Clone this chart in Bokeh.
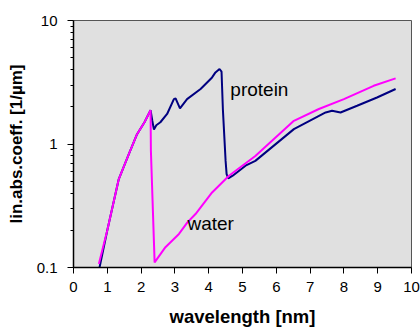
from bokeh.plotting import figure
from bokeh.models import FixedTicker, Label
from bokeh.embed import file_html
from bokeh.resources import INLINE

# data
protein_x = [0.77, 1.0, 1.34, 1.64, 1.88, 2.1, 2.28, 2.33, 2.38, 2.45, 2.57, 2.77, 2.97, 3.02, 3.15, 3.36, 3.76, 4.10, 4.2, 4.32, 4.38, 4.42, 4.5, 4.53, 4.58, 4.71, 5.09, 5.38, 6.52, 7.46, 7.65, 7.9, 8.39, 8.98, 9.53]
protein_y = [0.1, 0.2, 0.52, 0.83, 1.2, 1.5, 1.88, 1.55, 1.31, 1.42, 1.5, 1.75, 2.31, 2.34, 1.94, 2.31, 2.79, 3.46, 3.8, 4.05, 3.85, 1.9, 0.73, 0.57, 0.527, 0.554, 0.667, 0.73, 1.32, 1.8, 1.86, 1.8, 2.04, 2.38, 2.79]

water_x = [0.75, 1.0, 1.34, 1.64, 1.88, 2.1, 2.28, 2.29, 2.40, 2.72, 3.12, 3.37, 3.61, 4.10, 4.6, 5.38, 6.52, 7.26, 8.0, 8.88, 9.53]
water_y = [0.107, 0.2, 0.52, 0.83, 1.2, 1.5, 1.88, 0.88, 0.11, 0.146, 0.187, 0.232, 0.271, 0.405, 0.554, 0.80, 1.54, 1.92, 2.31, 2.96, 3.4]

x_ticks = [0, 1, 2, 3, 4, 5, 6, 7, 8, 9, 10]
y_ticks = [0.1, 1, 10]
y_tick_labels = ["0.1", "1", "10"]
y_minor = [0.2, 0.3, 0.4, 0.5, 0.6, 0.7, 0.8, 0.9, 2, 3, 4, 5, 6, 7, 8, 9]

labels = ["protein", "water"]
label_x = [4.64, 3.37]
label_y = [2.76, 0.227]

FONT = "Liberation Sans"

p = figure(width=420, height=329, y_axis_type="log",
           x_range=(0, 10), y_range=(0.1, 10),
           output_backend="svg", toolbar_location=None,
           min_border_left=73, min_border_top=20,
           min_border_right=9, min_border_bottom=62)

p.background_fill_color = "#e0e0e0"
p.border_fill_color = "white"
p.outline_line_color = "#555555"
p.outline_line_width = 1
p.grid.visible = False

p.xaxis.ticker = FixedTicker(ticks=x_ticks)
p.yaxis.ticker = FixedTicker(ticks=y_ticks, minor_ticks=y_minor)
p.yaxis.major_label_overrides = {t: s for t, s in zip(y_ticks, y_tick_labels)}

for ax in (p.xaxis, p.yaxis):
    ax.axis_line_color = "black"
    ax.axis_line_width = 1.5
    ax.major_tick_line_color = "black"
    ax.major_tick_in = 0
    ax.major_tick_out = 6
    ax.major_label_text_font = FONT
    ax.major_label_text_font_size = "15px"
    ax.major_label_text_color = "black"
    ax.axis_label_text_font = FONT
    ax.axis_label_text_font_style = "bold"
    ax.axis_label_text_color = "black"

p.xaxis.minor_tick_line_color = None
p.yaxis.minor_tick_line_color = "black"
p.yaxis.minor_tick_in = 0
p.yaxis.minor_tick_out = 3
p.xaxis.axis_label = "wavelength [nm]"
p.yaxis.axis_label = "lin.abs.coeff. [1/µm]"
p.xaxis.axis_label_text_font_size = "18.5px"
p.yaxis.axis_label_text_font_size = "17px"
p.xaxis.major_label_standoff = 8
p.yaxis.major_label_standoff = 10
p.xaxis.axis_label_standoff = 11
p.yaxis.axis_label_standoff = 8

p.line(protein_x, protein_y, line_color="#000080", line_width=2)
p.line(water_x, water_y, line_color="#ff00ff", line_width=2)

for t, lx, ly in zip(labels, label_x, label_y):
    p.add_layout(Label(x=lx, y=ly, text=t, text_font=FONT,
                       text_font_size="19px", text_color="black",
                       text_baseline="alphabetic"))

open("out.html", "w").write(file_html(p, INLINE))
